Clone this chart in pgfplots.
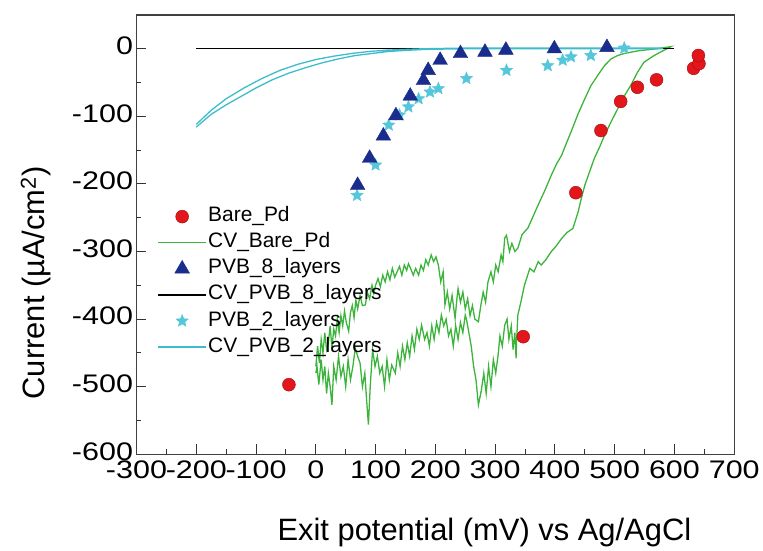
\documentclass[border=0pt]{standalone}
\usepackage{fontspec}
\setmainfont{Liberation Sans}
\newfontfamily\tickfont{Liberation Sans}[FakeStretch=1.2]
\usepackage{pgfplots}
\pgfplotsset{compat=1.18}
\usetikzlibrary{calc,plotmarks}

\definecolor{barered}{HTML}{E3161B}
\definecolor{bareedge}{HTML}{9A1010}
\definecolor{cvgreen}{HTML}{3CB43C}
\definecolor{pvbnavy}{HTML}{1A2C8C}
\definecolor{starcyan}{HTML}{56C6DA}
\definecolor{linecyan}{HTML}{3DBDCB}

% filled five-point star
\pgfdeclareplotmark{fstar}{%
  \pgfpathmoveto{\pgfpointpolar{90}{\pgfplotmarksize}}%
  \pgfpathlineto{\pgfpointpolar{126}{0.45\pgfplotmarksize}}%
  \pgfpathlineto{\pgfpointpolar{162}{\pgfplotmarksize}}%
  \pgfpathlineto{\pgfpointpolar{198}{0.45\pgfplotmarksize}}%
  \pgfpathlineto{\pgfpointpolar{234}{\pgfplotmarksize}}%
  \pgfpathlineto{\pgfpointpolar{270}{0.45\pgfplotmarksize}}%
  \pgfpathlineto{\pgfpointpolar{306}{\pgfplotmarksize}}%
  \pgfpathlineto{\pgfpointpolar{342}{0.45\pgfplotmarksize}}%
  \pgfpathlineto{\pgfpointpolar{18}{\pgfplotmarksize}}%
  \pgfpathlineto{\pgfpointpolar{54}{0.45\pgfplotmarksize}}%
  \pgfpathclose\pgfusepathqfillstroke}

\begin{document}
\begin{tikzpicture}
\begin{axis}[
  scale only axis, width=600pt, height=441pt,
  xmin=-300, xmax=700, ymin=-600, ymax=50,
  xtick={-300,-200,...,700}, ytick={-600,-500,...,0},
  minor x tick num=1, minor y tick num=1,
  tick pos=left, tick align=inside,
  major tick length=10pt, minor tick length=5pt,
  every tick/.style={line width=1pt, black!80},
  axis line style={line width=1.3pt, black!75},
  ticklabel style={font=\fontsize{25.5}{28}\tickfont},
  yticklabel style={yshift=3pt},
  xticklabel style={yshift=-3pt},
  /pgf/number format/assume math mode=true,
  xlabel={Exit potential (mV) vs Ag/AgCl},
  ylabel={Current (µA/cm\textsuperscript{2})},
  label style={font=\fontsize{31}{34}\selectfont},
  xlabel style={at={(ticklabel cs:0.582)}},
  ylabel style={at={(ticklabel cs:0.39)}},
  xlabel shift=33pt, ylabel shift=14pt,
  legend cell align=left,
  legend style={at={(0.03,0.572)}, anchor=north west, draw=none, fill=none,
    font=\fontsize{21}{24}\selectfont, row sep=3.2pt,
    nodes={inner sep=1.5pt, text height=15pt, text depth=5pt}},
  legend image code/.code={\draw[mark repeat=2,mark phase=2,#1] plot coordinates {(0pt,0pt) (24pt,0pt) (48pt,0pt)};},
]

% PVB_2_layers stars drawn first so the triangles sit on top
\addplot[only marks, mark=fstar, mark size=6.5pt, color=starcyan, forget plot] coordinates {
  (69,-217) (100,-172) (122,-113) (140,-98) (155,-86) (172,-74) (191,-64) (205,-59)
  (252,-44) (319,-32) (388,-25) (413,-17) (427,-12) (460,-10) (516,1)
};

% Bare_Pd
\addplot[only marks, mark=*, mark size=6.5pt, draw=bareedge, fill=barered] coordinates {
  (-45,-497) (347,-426) (435,-213) (477,-121) (510,-78) (538,-57) (570,-46)
  (632,-29) (641,-22) (640,-10)
};
\addlegendentry{Bare\_Pd}

% CV_Bare_Pd: forward sweep (upper trace), then reverse sweep (lower trace)
\addplot[cvgreen, line width=1.3pt] coordinates {
  (0,-470) (3,-440) (6,-465) (9,-430) (12,-450) (15,-420) (18,-445) (21,-435)
  (24,-410) (27,-443) (30,-415) (33,-425) (36,-400) (39,-420) (42,-395) (45,-410)
  (48,-388) (51,-405) (55,-418) (58,-390) (61,-380) (64,-398) (67,-372) (70,-385)
  (74,-365) (78,-380) (83,-379) (86,-360) (90,-370) (94,-350) (97,-362) (100,-350)
  (104,-340) (108,-352) (112,-335) (116,-345) (120,-330) (124,-342) (128,-325) (132,-338)
  (136,-330) (140,-322) (144,-335) (148,-320) (152,-328) (155,-318) (159,-326) (163,-335)
  (167,-325) (172,-335) (176,-320) (180,-328) (184,-312) (188,-320) (193,-305) (197,-315)
  (201,-308) (205,-320) (209,-345) (213,-330) (216,-379) (220,-360) (224,-385) (228,-365)
  (233,-399) (236,-370) (238,-355) (242,-375) (246,-360) (250,-385) (254,-370) (258,-395)
  (262,-380) (266,-400) (272,-404) (276,-380) (280,-360) (284,-375) (288,-345) (293,-330)
  (297,-345) (301,-320) (305,-330) (310,-305) (313,-315) (316,-280) (319,-276) (324,-300)
  (328,-288) (333,-300) (338,-295) (345,-275) (355,-265) (365,-245) (372,-231)
  (383,-210) (394,-187) (403,-170) (411,-158) (420,-138) (427,-123) (438,-98) (450,-74)
  (460,-55) (472,-39) (483,-25) (494,-15) (505,-10) (516,-7) (540,-3) (570,0) (594,3)
  (583,-2) (566,-10) (549,-20) (538,-35) (527,-54) (516,-70) (505,-89) (494,-108)
  (483,-128) (475,-145) (466,-162) (458,-182) (450,-202) (444,-222) (439,-241) (434,-255)
  (430,-266) (420,-272) (411,-281) (402,-292) (394,-300) (385,-312) (377,-320) (372,-315)
  (365,-330) (358,-325) (349,-350) (343,-375) (338,-394) (336,-430) (335,-458)
  (333,-420) (330,-445) (327,-410) (323,-430) (320,-400) (316,-409) (312,-440) (308,-425)
  (305,-453) (301,-480) (297,-460) (293,-500) (289,-470) (285,-510) (281,-480) (277,-505)
  (272,-527) (268,-490) (264,-470) (260,-440) (256,-420) (252,-400) (250,-394) (246,-420)
  (242,-405) (238,-430) (234,-410) (230,-440) (226,-415) (222,-425) (218,-400) (214,-410)
  (210,-394) (206,-420) (202,-405) (198,-430) (194,-410) (190,-440) (186,-420) (182,-430)
  (177,-409) (173,-430) (169,-415) (165,-445) (161,-425) (157,-455) (153,-435) (149,-460)
  (145,-440) (141,-470) (137,-450) (133,-480) (127,-468) (123,-490) (119,-460) (115,-500)
  (111,-470) (107,-480) (103,-455) (99,-470) (95,-445) (91,-500) (88,-556) (85,-520)
  (82,-480) (78,-500) (74,-465) (70,-455) (66,-443) (62,-470) (58,-490) (54,-460)
  (50,-500) (46,-470) (42,-485) (38,-455) (34,-490) (30,-470) (27,-527) (24,-500)
  (21,-480) (18,-510) (15,-470) (12,-490) (9,-460) (5,-497) (2,-470) (0,-480)
};
\addlegendentry{CV\_Bare\_Pd}

% PVB_8_layers
\addplot[only marks, mark=triangle*, mark size=8.5pt, color=pvbnavy] coordinates {
  (70,-202) (90,-162) (113,-129) (134,-99) (158,-70) (180,-47) (188,-32) (208,-17)
  (242,-7) (283,-5) (318,-2) (399,0) (487,2)
};
\addlegendentry{PVB\_8\_layers}

% CV_PVB_8_layers
\addplot[black, line width=1.3pt] coordinates {(-200,0) (0,0) (200,0) (400,0) (600,0)};
\addlegendentry{CV\_PVB\_8\_layers}

\addlegendimage{only marks, mark=fstar, mark size=6.5pt, color=starcyan}
\addlegendentry{PVB\_2\_layers}

% CV_PVB_2_layers
\addplot[linecyan, line width=1.3pt] coordinates {
  (-200,-116) (-175,-97) (-150,-83) (-128,-72) (-100,-58) (-73,-46) (-45,-36) (-17,-28)
  (10,-21) (38,-15) (66,-10) (94,-7) (122,-4) (150,-2.5) (183,-1) (250,0) (350,0)
  (450,0) (530,0) (580,0) (580,1) (450,1) (350,1) (250,1) (180,0) (150,-1) (120,-2)
  (90,-4) (60,-7) (30,-11) (0,-16) (-30,-23) (-60,-32) (-90,-44) (-120,-58) (-150,-74)
  (-175,-91) (-200,-112)
};
\addlegendentry{CV\_PVB\_2\_layers}
\end{axis}
\path ($(current axis.south west)+(-137pt,-91pt)$) rectangle ($(current axis.north east)+(25pt,15pt)$);
\end{tikzpicture}
\end{document}
